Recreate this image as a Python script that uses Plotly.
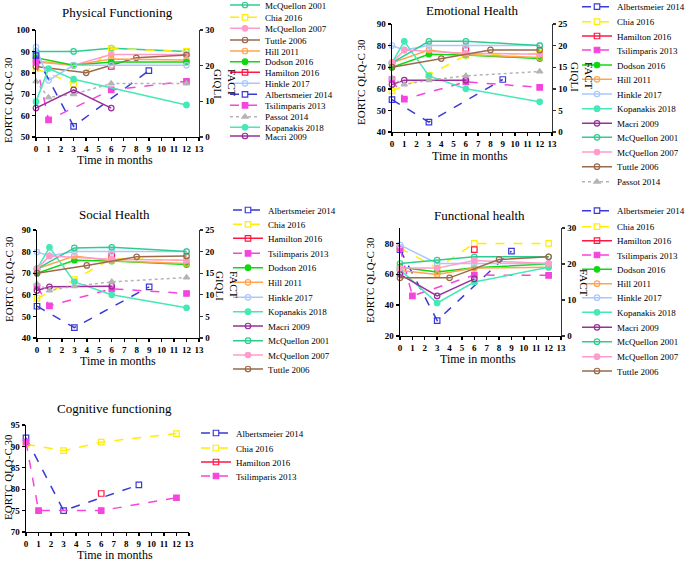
import plotly.graph_objects as go

W, H = 685, 562
FONT = "Liberation Serif"

# ---------------- data ----------------
MONTH_TICKS = list(range(0, 14))

PF_STUDIES = ["McQuellon 2001", "Chia 2016", "McQuellon 2007", "Tuttle 2006", "Hill 2011",
              "Dodson 2016", "Hamilton 2016", "Hinkle 2017", "Albertsmeier 2014",
              "Tsilimparis 2013", "Passot 2014", "Kopanakis 2018", "Macri 2009"]
PF_MONTHS = [[0, 3, 6, 12], [0, 3, 6, 12], [0, 3, 6, 12], [0, 4, 8, 12], [0, 3, 6, 12],
             [0, 3, 6, 12], [6], [0, 1, 3, 6, 12], [0, 3, 9],
             [0, 1, 6, 12], [0, 1, 3, 6, 12], [0, 1, 3, 12], [0, 3, 6]]
PF_SCORES = [[90, 90, 91.5, 90], [82, 75, 91.3, 90], [85, 83.5, 88.5, 88.5], [83, 80, 87, 88.3],
             [85.5, 83.5, 86.5, 86], [87, 83.5, 85, 85], [83], [92, 76.5, 83.5, 83.5, 83.5],
             [88, 55, 81], [85, 58, 72, 76], [76, 68.5, 70, 75, 75], [66.5, 82, 77, 65],
             [63.5, 72, 63.5]]

EH_STUDIES = ["Albertsmeier 2014", "Chia 2016", "Hamilton 2016", "Tsilimparis 2013", "Dodson 2016",
              "Hill 2011", "Hinkle 2017", "Kopanakis 2018", "Macri 2009", "McQuellon 2001",
              "McQuellon 2007", "Tuttle 2006", "Passot 2014"]
EH_MONTHS = [[0, 3, 9], [0, 3, 6, 12], [6], [0, 1, 6, 12], [0, 3, 6, 12],
             [0, 3, 6, 12], [0, 1, 3, 6, 12], [0, 1, 3, 6, 12], [0, 1, 6], [0, 3, 6, 12],
             [0, 1, 6, 12], [0, 4, 8, 12], [0, 1, 3, 6, 12]]
EH_SCORES = [[55, 44.6, 64.3], [59, 66.3, 75.6, 76.4], [78], [64.3, 55.2, 63.2, 60.7],
             [70, 76, 75.6, 74], [72, 78, 75.8, 74.5], [80, 78, 80, 80, 80],
             [72, 82, 66, 60, 54], [62, 64, 64], [72, 82, 82, 80], [72, 78, 76.5, 76],
             [70, 74, 78, 78], [65, 62, 64, 66, 68]]

SH_STUDIES = EH_STUDIES
SH_MONTHS = [[0, 3, 9], [0, 3, 6, 12], [6], [0, 1, 6, 12], [0, 3, 6, 12],
             [0, 3, 6, 12], [0, 1, 3, 6, 12], [0, 1, 3, 6, 12], [0, 1, 6], [0, 3, 6, 12],
             [0, 1, 6, 12], [0, 4, 8, 12], [0, 1, 3, 6, 12]]
SH_SCORES = [[54.7, 44.8, 63.7], [58.3, 67, 76.8, 76], [78], [63.7, 54.9, 62.8, 60.6],
             [70, 76, 75.6, 74], [72, 78, 75.8, 74.5], [79.8, 78, 80, 80, 80],
             [72, 82, 66, 60, 54], [62, 63.7, 64], [72, 81.7, 82, 80], [72, 78, 76.5, 76],
             [70, 73.6, 77.6, 78], [65, 62, 64, 66, 68]]

FH_STUDIES = ["Albertsmeier 2014", "Chia 2016", "Hamilton 2016", "Tsilimparis 2013", "Dodson 2016",
              "Hill 2011", "Hinkle 2017", "Kopanakis 2018", "Macri 2009", "McQuellon 2001",
              "McQuellon 2007", "Tuttle 2006"]
FH_MONTHS = [[0, 3, 9], [0, 3, 6, 12], [6], [0, 1, 6, 12], [0, 3, 6, 12],
             [0, 3, 6, 12], [0, 3, 6, 12], [0, 3, 6, 12], [0, 3, 6], [0, 3, 6, 12],
             [0, 3, 6, 12], [0, 4, 8, 12]]
FH_SCORES = [[76, 30, 75], [77, 64, 80, 80], [76], [77, 46, 59.5, 59.3],
             [64.6, 61.5, 64.2, 66.8], [62.5, 59.8, 64, 64.5], [79, 67, 67, 67],
             [63, 41.4, 55, 64.5], [60, 46, 57], [67, 69.2, 71.3, 71.3],
             [64, 64, 69, 67], [57.7, 57.7, 69.6, 71.3]]

CF_STUDIES = ["Albertsmeier 2014", "Chia 2016", "Hamilton 2016", "Tsilimparis 2013"]
CF_MONTHS = [[0, 3, 9], [0, 3, 6, 12], [6], [0, 1, 6, 12]]
CF_SCORES = [[92, 75, 81], [90.5, 89, 91, 93], [79], [91, 75, 75, 78]]

# ---------------- styles ----------------
STYLE = {
    "Albertsmeier 2014": ("#3a3ad6", "dash", "square-open"),
    "Chia 2016": ("#ffee00", "dash", "square-open"),
    "Hamilton 2016": ("#ff1744", "solid", "square-open"),
    "Tsilimparis 2013": ("#f545dc", "dash", "square"),
    "Dodson 2016": ("#10d810", "solid", "circle"),
    "Hill 2011": ("#ffa552", "solid", "circle-open"),
    "Hinkle 2017": ("#a8c8ff", "solid", "circle-open"),
    "Kopanakis 2018": ("#46e8b6", "solid", "circle"),
    "Macri 2009": ("#9a2f9a", "solid", "circle-open"),
    "McQuellon 2001": ("#2fcc90", "solid", "circle-open"),
    "McQuellon 2007": ("#ff9ccb", "solid", "circle"),
    "Tuttle 2006": ("#9a6a4a", "solid", "circle-open"),
    "Passot 2014": ("#b4b4b4", "dot", "triangle-up"),
}


def fx(p):
    return p / W


def fy(p):
    return 1 - p / H


PANELS = [
    dict(title="Physical Functioning", studies=PF_STUDIES, months=PF_MONTHS, scores=PF_SCORES,
         xd=(36, 199), yd=(30, 137), yr=[50, 100], ydt=10, y2r=[0, 30], y2dt=10,
         title_pos=(117, 13), xt_pos=(115, 160), yt_pos=(8, 100), y2t=("FACT<br>GIQLI", 225, 84),
         leg_x=265, leg_y=[5, 17.3, 28.3, 40, 51, 61.7, 72.3, 83.3, 94.3, 105.3, 116.7, 127.3, 136],
         nolegend=[]),
    dict(title="Emotional Health", studies=EH_STUDIES, months=EH_MONTHS, scores=EH_SCORES,
         xd=(392, 552), yd=(24, 132), yr=[40, 90], ydt=10, y2r=[0, 25], y2dt=5,
         title_pos=(472, 10), xt_pos=(470, 156), yt_pos=(361, 82), y2t=("FACT<br>GIQLI", 582, 77),
         leg_x=617, leg_y=[6.7, 21.7, 36, 50, 65, 79.3, 94, 108.7, 123.3, 137.3, 152, 166.7, 181.7],
         nolegend=[]),
    dict(title="Social Health", studies=SH_STUDIES, months=SH_MONTHS, scores=SH_SCORES,
         xd=(37, 199), yd=(230, 338), yr=[40, 90], ydt=10, y2r=[0, 25], y2dt=5,
         title_pos=(115, 214), xt_pos=(118, 361), yt_pos=(9, 279), y2t=("FACT<br>GIQLI", 227, 286),
         leg_x=268, leg_y=[210, 224.3, 238.3, 253.3, 267.7, 282.3, 297.3, 311.7, 326, 340.7, 355, 369],
         nolegend=["Passot 2014"]),
    dict(title="Functional health", studies=FH_STUDIES, months=FH_MONTHS, scores=FH_SCORES,
         xd=(400, 561), yd=(228, 336), yr=[20, 90], ydt=20, y2r=[0, 30], y2dt=10,
         title_pos=(479, 215), xt_pos=(478, 359), yt_pos=(370, 280), y2t=("FACT", 584, 283),
         leg_x=617, leg_y=[210.7, 226.7, 240.7, 255, 269.3, 283.7, 297.7, 312.3, 327.3, 341.7, 356.7, 371],
         nolegend=[]),
    dict(title="Cognitive functioning", studies=CF_STUDIES, months=CF_MONTHS, scores=CF_SCORES,
         xd=(26, 189), yd=(425, 532), yr=[70, 95], ydt=5, y2r=None, y2dt=None,
         title_pos=(115, 408), xt_pos=(115, 555), yt_pos=(8, 477), y2t=None,
         leg_x=236, leg_y=[433, 448, 462, 476],
         nolegend=[]),
]

fig = go.Figure()
layout = dict(width=W, height=H, autosize=False,
              margin=dict(l=0, r=0, t=0, b=0, pad=0, autoexpand=False),
              paper_bgcolor="white", plot_bgcolor="white", showlegend=True,
              font=dict(family=FONT, color="black"))
annotations = []

tickfont = dict(family=FONT, size=9, color="black", weight="bold")
axis_common = dict(showline=True, linecolor="black", linewidth=1.4, ticks="outside", ticklen=3,
                   tickwidth=1.4, tickcolor="black", showgrid=False, zeroline=False,
                   tickfont=tickfont, fixedrange=True, automargin=False)

yidx = 1
legend_count = 0
for pi, P in enumerate(PANELS):
    xn = pi + 1
    xid = "x" if xn == 1 else f"x{xn}"
    yl = yidx
    ylid = "y" if yl == 1 else f"y{yl}"
    yidx += 1
    layout["xaxis" if xn == 1 else f"xaxis{xn}"] = dict(
        axis_common, domain=[fx(P["xd"][0]), fx(P["xd"][1])], range=[0, 13],
        tickmode="array", tickvals=MONTH_TICKS, anchor=ylid)
    layout["yaxis" if yl == 1 else f"yaxis{yl}"] = dict(
        axis_common, domain=[fy(P["yd"][1]), fy(P["yd"][0])], range=P["yr"],
        dtick=P["ydt"], tick0=0, anchor=xid)
    if P["y2r"] is not None:
        yr_id = yidx
        yidx += 1
        layout[f"yaxis{yr_id}"] = dict(
            axis_common, overlaying=ylid, side="right", anchor=xid, range=P["y2r"],
            dtick=P["y2dt"], tick0=0, linecolor="#333333", tickcolor="#333333")
        # empty trace so the secondary (FACT / GIQLI) axis is drawn
        fig.add_trace(go.Scatter(x=[], y=[], xaxis=xid, yaxis=f"y{yr_id}",
                                 showlegend=False, hoverinfo="skip", mode="lines"))
    for si, name in enumerate(P["studies"]):
        color, dash, symbol = STYLE[name]
        show = name not in P["nolegend"]
        kw = {}
        if show:
            legend_count += 1
            lid = "legend" if legend_count == 1 else f"legend{legend_count}"
            kw["legend"] = lid
            ly = P["leg_y"][si]
            layout[lid] = dict(x=fx(P["leg_x"] - 40), y=fy(ly), xanchor="left", yanchor="middle",
                               bgcolor="rgba(0,0,0,0)", borderwidth=0, itemwidth=30,
                               font=dict(family=FONT, size=9, color="black"))
        fig.add_trace(go.Scatter(
            x=P["months"][si], y=P["scores"][si], name=name, mode="lines+markers",
            xaxis=xid, yaxis=ylid, showlegend=show, cliponaxis=False,
            line=dict(color=color, width=1.5, dash=dash),
            marker=dict(symbol=symbol, size=5.5, color=color, line=dict(color=color, width=1.2)),
            **kw))
    # texts
    tx, ty = P["title_pos"]
    annotations.append(dict(text=P["title"], x=fx(tx), y=fy(ty), xref="paper", yref="paper",
                            showarrow=False, xanchor="center", yanchor="middle",
                            font=dict(family=FONT, size=13, color="black")))
    tx, ty = P["xt_pos"]
    annotations.append(dict(text="Time in months", x=fx(tx), y=fy(ty), xref="paper", yref="paper",
                            showarrow=False, xanchor="center", yanchor="middle",
                            font=dict(family=FONT, size=12, color="black")))
    tx, ty = P["yt_pos"]
    annotations.append(dict(text="EORTC QLQ-C 30", x=fx(tx), y=fy(ty), xref="paper", yref="paper",
                            showarrow=False, xanchor="center", yanchor="middle", textangle=-90,
                            font=dict(family=FONT, size=11, color="black")))
    if P["y2t"] is not None:
        t, tx, ty = P["y2t"]
        annotations.append(dict(text=t, x=fx(tx), y=fy(ty), xref="paper", yref="paper",
                                showarrow=False, xanchor="center", yanchor="middle", textangle=90,
                                align="left",
                                font=dict(family=FONT, size=11, color="black")))

layout["annotations"] = annotations
fig.update_layout(**layout)
fig.write_html("out.html", config={"displayModeBar": False, "staticPlot": True},
               post_script="document.body.style.margin='0px';")
